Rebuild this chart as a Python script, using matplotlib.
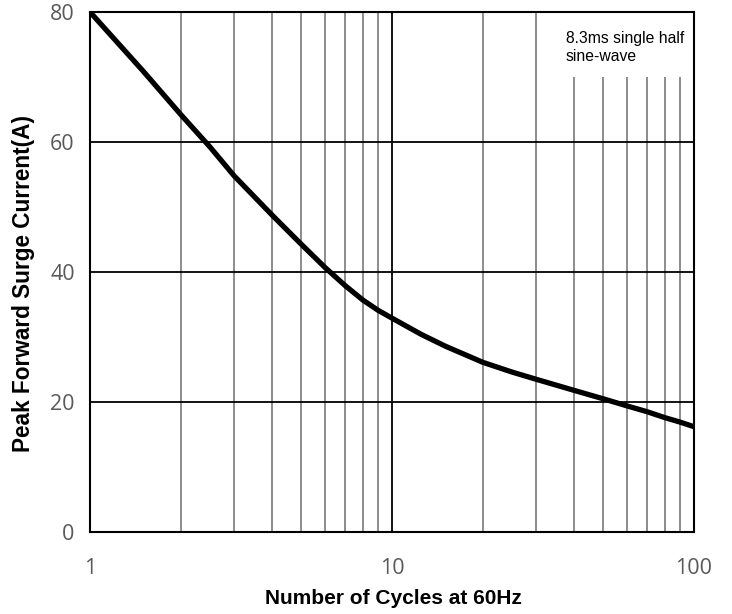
import matplotlib
matplotlib.use("Agg")
import matplotlib.pyplot as plt
from matplotlib.ticker import FixedLocator, NullFormatter
from matplotlib.patches import Rectangle

cycles = [1, 1.5, 2, 2.5, 3, 4, 5, 6, 7, 8, 9, 10, 12.5, 15, 20, 25, 30, 40, 50, 60, 70, 80, 90, 100]
current = [80, 70.9, 64.2, 59.2, 54.8, 48.8, 44.3, 40.7, 37.9, 35.7, 34.1, 32.9,
           30.4, 28.6, 26.1, 24.6, 23.5, 21.8, 20.5, 19.4, 18.5, 17.6, 16.9, 16.2]
x_ticks = [1, 10, 100]
x_tick_labels = ["1", "10", "100"]
x_minor = [2, 3, 4, 5, 6, 7, 8, 9, 20, 30, 40, 50, 60, 70, 80, 90]
y_ticks = [0, 20, 40, 60, 80]
note = "8.3ms single half\nsine-wave"
x_label = "Number of Cycles at 60Hz"
y_label = "Peak Forward Surge Current(A)"

W, H = 732, 614
fig = plt.figure(figsize=(W / 100, H / 100), dpi=100)
ax = fig.add_axes([90 / W, 82 / H, 604 / W, 520 / H])

ax.set_xscale("log")
ax.set_xlim(1, 100)
ax.set_ylim(0, 80)

# grid
for xm in x_minor:
    ax.axvline(xm, color="#8c8c8c", lw=1.4, zorder=1)
ax.axvline(10, color="black", lw=1.3, zorder=1.5)
for yv in [20, 40, 60]:
    ax.axhline(yv, color="black", lw=1.3, zorder=1.5)

ax.plot(cycles, current, color="black", lw=3.8, solid_capstyle="butt",
        solid_joinstyle="round", zorder=3)

# note box (white background covering grid)
box_left = 10 ** ((541 - 90) / 302.0)
ax.add_patch(Rectangle((box_left, 70.0), 100 - box_left, 10.0,
                       facecolor="white", edgecolor="none", zorder=2))
ax.text(10 ** ((566 - 90) / 302.0), 80 - (31 - 12) / 6.5, note, fontsize=11.3,
        family="Liberation Sans", va="top", ha="left", linespacing=1.25, zorder=4)

ax.xaxis.set_major_locator(FixedLocator(x_ticks))
ax.set_xticklabels(x_tick_labels)
ax.xaxis.set_minor_locator(FixedLocator(x_minor))
ax.xaxis.set_minor_formatter(NullFormatter())
ax.set_yticks(y_ticks)
ax.tick_params(which="both", length=0, labelsize=15.5, labelcolor="#595959")
ax.tick_params(axis="x", pad=19)
ax.tick_params(axis="y", pad=11)
for lab in ax.get_xticklabels() + ax.get_yticklabels():
    lab.set_family("Open Sans")

for s in ax.spines.values():
    s.set_color("black")
    s.set_linewidth(1.5)
    s.set_zorder(5)

fig.text(393 / W, 1 - 598 / H, x_label, fontsize=15, fontweight="bold",
         family="Liberation Sans", ha="center", va="center")
fig.text(24 / W, 1 - 283 / H, y_label, fontsize=16.3, fontweight="bold",
         family="Liberation Sans", ha="center", va="center", rotation=90)

fig.savefig("out.png", dpi=100)
